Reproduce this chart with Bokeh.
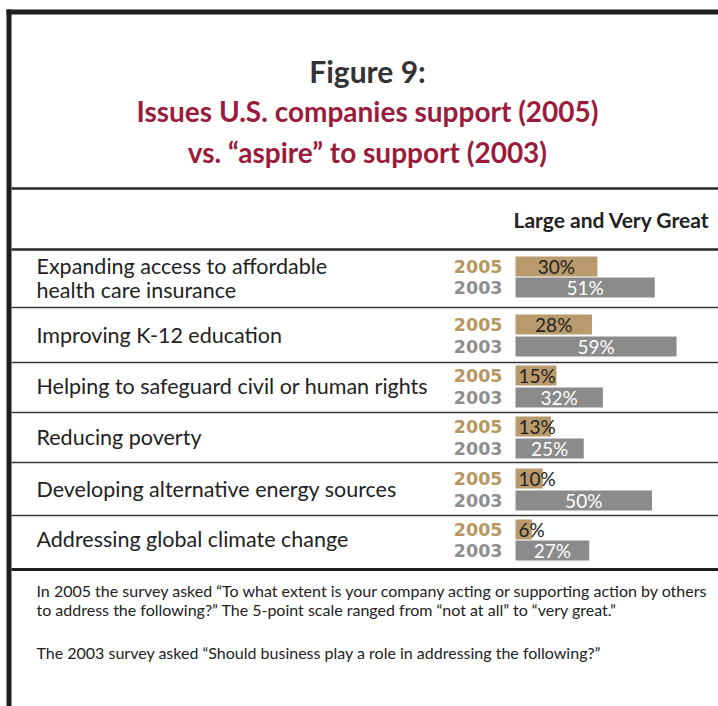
from bokeh.plotting import figure
from bokeh.models import Range1d, ColumnDataSource
from bokeh.core.properties import value
from bokeh.embed import file_html
from bokeh.resources import INLINE

# ---------------- data ----------------
issues = [
    "Expanding access to affordable\nhealth care insurance",
    "Improving K-12 education",
    "Helping to safeguard civil or human rights",
    "Reducing poverty",
    "Developing alternative energy sources",
    "Addressing global climate change",
]
pct_2005 = [30, 28, 15, 13, 10, 6]
pct_2003 = [51, 59, 32, 25, 50, 27]
year_labels = ["2005", "2003"]

title_1 = "Figure 9:"
title_2 = "Issues U.S. companies support (2005)"
title_3 = "vs. \u201caspire\u201d to support (2003)"
column_head = "Large and Very Great"
note_1 = "In 2005 the survey asked \u201cTo what extent is your company acting or supporting action by others"
note_2 = "to address the following?\u201d The 5-point scale ranged from \u201cnot at all\u201d to \u201cvery great.\u201d"
note_3 = "The 2003 survey asked \u201cShould business play a role in addressing the following?\u201d"

# ---------------- layout ----------------
W, H = 718, 706
X0 = 515.0      # pixel where 0% sits
SCALE = 2.73    # pixels per percentage point

def X(px):
    return (px - X0) / SCALE

y_2005 = [266, 324, 375, 426, 478, 529]
y_2003 = [287, 346, 397, 448, 500, 550]
seps = [307, 362, 412, 462, 515]

C2005 = "#b89a6c"
C2003 = "#8b8b8b"
LABEL2005 = "#b8965f"
LABEL2003 = "#8e8e8e"
CRIMSON = "#9b1b3d"
DARK = "#222222"
FONT = "Lato"

p = figure(width=W, height=H, x_range=Range1d(X(0), X(W)), y_range=Range1d(H, 0),
           output_backend="svg", toolbar_location=None, min_border=0,
           x_axis_type=None, y_axis_type=None)
p.grid.visible = False
p.outline_line_color = None
p.background_fill_color = "white"
p.border_fill_color = "white"

# frame lines
p.segment(x0=[X(6)], x1=[X(W)], y0=[11.5], y1=[11.5], line_color="#1e1e1e", line_width=5)
p.segment(x0=[X(8.5)], x1=[X(8.5)], y0=[9], y1=[H], line_color="#1e1e1e", line_width=5)
p.segment(x0=[X(11)] * 2, x1=[X(W)] * 2, y0=[188, 249], y1=[188, 249], line_color="#2a2a2a", line_width=2.5)
p.segment(x0=[X(11)] * len(seps), x1=[X(W)] * len(seps), y0=seps, y1=seps, line_color="#3a3a3a", line_width=1.6)
p.segment(x0=[X(11)], x1=[X(W)], y0=[569], y1=[569], line_color="#1e1e1e", line_width=3)

# titles
p.text(x=[X(367)], y=[70], text=[title_1], text_align="center", text_baseline="middle",
       text_font=value(FONT), text_font_style="bold", text_font_size="30px", text_color="#333333")
p.text(x=[X(367)] * 2, y=[110, 151], text=[title_2, title_3], text_align="center", text_baseline="middle",
       text_font=value(FONT), text_font_style="bold", text_font_size="28px", text_color=CRIMSON)
p.text(x=[X(513)], y=[219], text=[column_head], text_align="left", text_baseline="middle",
       text_font=value(FONT), text_font_style="bold", text_font_size="21px", text_color=DARK)

# row labels
label_y = [(a + b) / 2 - 1 for a, b in zip(y_2005, y_2003)]
label_y[0] += 2
p.text(x=[X(36)] * len(issues), y=label_y, text=issues, text_align="left", text_baseline="middle",
       text_font=value(FONT), text_font_size="21.5px", text_color=DARK, text_line_height=0.95)

# year labels
p.text(x=[X(502)] * len(y_2005), y=y_2005, text=[year_labels[0]] * len(y_2005), text_align="right",
       text_baseline="middle", text_font=value("DejaVu Sans"), text_font_style="bold",
       text_font_size="17.5px", text_color=LABEL2005)
p.text(x=[X(502)] * len(y_2003), y=y_2003, text=[year_labels[1]] * len(y_2003), text_align="right",
       text_baseline="middle", text_font=value("DejaVu Sans"), text_font_style="bold",
       text_font_size="17.5px", text_color=LABEL2003)

# bars
src05 = ColumnDataSource(dict(y=y_2005, v=pct_2005, lab=[f"{v}%" for v in pct_2005]))
src03 = ColumnDataSource(dict(y=y_2003, v=pct_2003, lab=[f"{v}%" for v in pct_2003],
                              xc=[v / 2 for v in pct_2003]))
p.hbar(y="y", left=0, right="v", height=20, source=src05, fill_color=C2005, line_color=None)
p.hbar(y="y", left=0, right="v", height=20, source=src03, fill_color=C2003, line_color=None)

# value labels
big = [i for i, v in enumerate(pct_2005) if v >= 20]
small = [i for i, v in enumerate(pct_2005) if v < 20]
p.text(x=[pct_2005[i] / 2 for i in big], y=[y_2005[i] for i in big],
       text=[f"{pct_2005[i]}%" for i in big], text_align="center", text_baseline="middle",
       text_font=value(FONT), text_font_size="19px", text_color=DARK)
p.text(x=[3 / SCALE] * len(small), y=[y_2005[i] for i in small],
       text=[f"{pct_2005[i]}%" for i in small], text_align="left", text_baseline="middle",
       text_font=value(FONT), text_font_size="19px", text_color=DARK)
p.text(x="xc", y="y", text="lab", source=src03, text_align="center", text_baseline="middle",
       text_font=value(FONT), text_font_size="19px", text_color="white")

# notes
p.text(x=[X(36)] * 3, y=[590, 609, 652], text=[note_1, note_2, note_3], text_align="left",
       text_baseline="middle", text_font=value(FONT), text_font_size="16px", text_color=DARK)

open("out.html", "w").write(file_html(p, INLINE))
